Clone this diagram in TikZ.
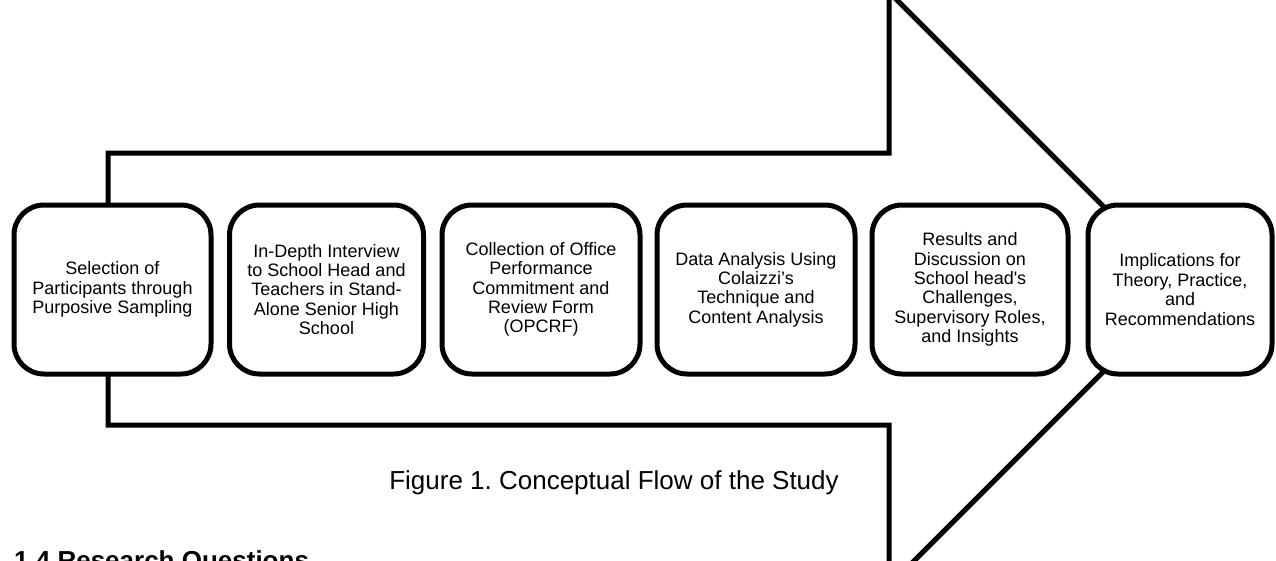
\documentclass[tikz,border=0pt]{standalone}
\usepackage{fontspec}
\setmainfont{Liberation Sans}
\frenchspacing
\begin{document}
\begin{tikzpicture}[x=1pt,y=-1pt,
  stepbox/.style={draw=black, line width=5pt, rounded corners=30pt, fill=white,
    minimum height=169pt, align=center, inner sep=0pt,
    font=\fontsize{18}{19.4}\selectfont},
  bigarrow/.style={draw=black, line width=5pt, fill=white, line join=miter}]
\clip (0,0) rectangle (1276,560);
\useasboundingbox (0,0) rectangle (1276,560);
% big arrow
\draw[bigarrow] (108,153) -- (889,153) -- (889,-8) -- (1186,289) -- (889,586) -- (889,425) -- (108,425) -- cycle;
% step boxes
\node[stepbox, minimum width=197pt] (b1) at (112.5,289.5) {Selection of\\Participants through\\Purposive Sampling};
\node[stepbox, minimum width=194pt] (b2) at (326.5,289.5) {In-Depth Interview\\to School Head and\\Teachers in Stand-\\Alone Senior High\\School};
\node[stepbox, minimum width=198pt] (b3) at (541,289.5) {Collection of Office\\Performance\\Commitment and\\Review Form\\(OPCRF)};
\node[stepbox, minimum width=198pt] (b4) at (756,289.5) {Data Analysis Using\\Colaizzi’s\\Technique and\\Content Analysis};
\node[stepbox, minimum width=196pt] (b5) at (970,289.5) {Results and\\Discussion on\\School head\textquotesingle s\\Challenges,\\Supervisory Roles,\\and Insights};
\node[stepbox, minimum width=184pt] (b6) at (1180,289.5) {Implications for\\Theory, Practice,\\and\\Recommendations};
% caption
\node[font=\fontsize{26}{30}\selectfont, inner sep=0pt] (cap) at (614,483) {Figure 1. Conceptual Flow of the Study};
\node[font=\fontsize{26}{30}\selectfont\bfseries, inner sep=0pt, anchor=base west] (head) at (14,569) {1.4 Research Questions};
\end{tikzpicture}
\end{document}
